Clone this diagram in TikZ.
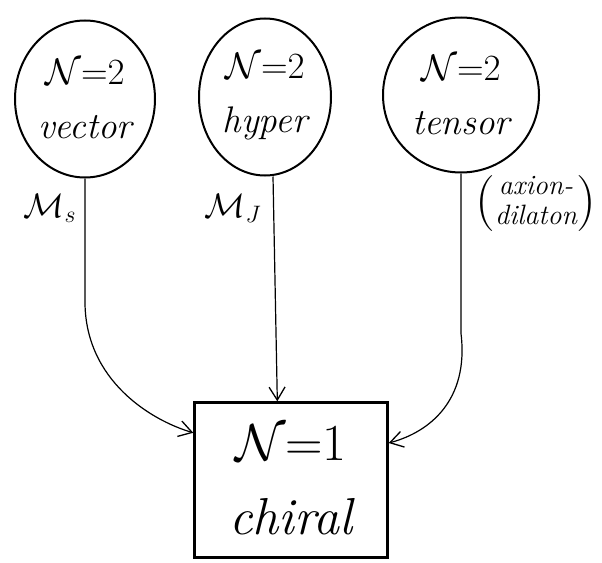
\RequirePackage{fix-cm}
\documentclass[tikz,border=0pt]{standalone}
\usetikzlibrary{shapes.geometric,arrows.meta,calc}
\begin{document}
\begin{tikzpicture}[x=1pt,y=-1pt,
  multiplet/.style={draw,ellipse,line width=2pt,inner sep=0pt,align=center,
    font=\fontsize{37}{54}\selectfont\itshape},
  chiralbox/.style={draw,rectangle,line width=2.4pt,inner sep=0pt,align=center,
    minimum width=193pt,minimum height=155pt,font=\fontsize{52}{74}\selectfont\itshape},
  conn/.style={line width=1.2pt,-{Straight Barb[length=13pt,width=16pt,line width=1.3pt]}},
  lbl/.style={font=\fontsize{34}{40}\selectfont}
]
\useasboundingbox (0,0) rectangle (602,562);
\node[multiplet,minimum width=140pt,minimum height=157pt] (vec) at (85,99) {$\mathcal{N}{=}2$\\vector};
\node[multiplet,minimum width=132pt,minimum height=157pt] (hyp) at (265,97) {$\mathcal{N}{=}2$\\hyper};
\node[multiplet,minimum width=156pt,minimum height=155pt] (ten) at (461,95) {$\mathcal{N}{=}2$\\tensor};
\node[chiralbox] (chi) at (291,480) {$\mathcal{N}{=}1$\\chiral};
\node[lbl] (ms) at (50,208) {$\mathcal{M}_{s}$};
\node[lbl] (mj) at (233,208) {$\mathcal{M}_{J}$};
\node[font=\fontsize{28}{30}\selectfont\itshape,inner sep=0pt] (ad) at (536,203)
  {\raisebox{-0.6ex}{\fontsize{56}{56}\selectfont\upshape(}\begin{tabular}{@{}c@{}}axion-\\dilaton\end{tabular}\raisebox{-0.6ex}{\fontsize{56}{56}\selectfont\upshape)}};
\coordinate (inL) at ($(chi.north west)!0.2!(chi.south west)$);
\coordinate (inT) at ($(chi.north west)!0.43!(chi.north east)$);
\coordinate (inR) at ($(chi.north east)!0.265!(chi.south east)$);
\draw[conn] (vec.south) -- ++(0,125) .. controls (86,380) and (150,420) .. (inL);
\draw[conn] (hyp.south) ++(8,0) -- (inT);
\draw[conn] (ten.south) -- ++(0,160) .. controls (469,400) and (430,432) .. (inR);
\end{tikzpicture}
\end{document}
